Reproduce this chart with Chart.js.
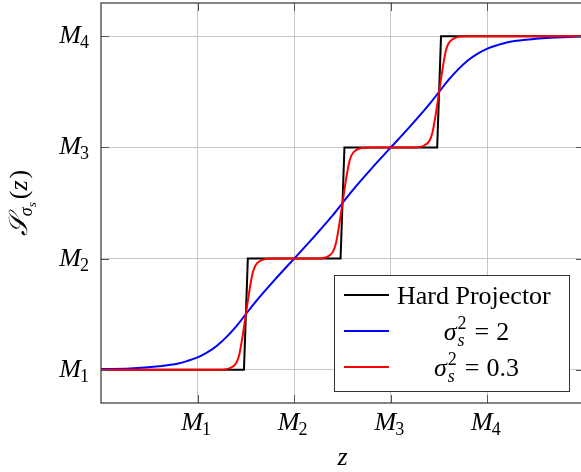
<!DOCTYPE html>
<html><head><meta charset="utf-8">
<script src="https://cdn.jsdelivr.net/npm/chart.js@4.4.1/dist/chart.umd.min.js"></script>
<style>html,body{margin:0;padding:0;overflow:hidden;background:#fff}#wrap{position:absolute;left:0;top:0;width:585px;height:472px}</style>
</head><body><div id="wrap"><canvas id="c" width="585" height="472"></canvas></div>
<script>
// ---- data ----
const xTicks = [1, 2, 3, 4];
const yTicks = [1, 2, 3, 4];
const tickBase = 'M';
const tickSubs = ['1', '2', '3', '4'];
const xTitle = 'z';
const seriesNames = ['Hard Projector', 'σ²ₛ = 2', 'σ²ₛ = 0.3'];
const sigmaValues = ['2', '0.3'];

const hardZ = [0, 1.48, 1.52, 2.48, 2.52, 3.48, 3.52, 5];
const hardV = [1, 1, 2, 2, 3, 3, 4, 4];

const blueZ = [0, 0.3, 0.6, 0.8, 0.9, 1.0, 1.1, 1.2, 1.3, 1.4, 1.5, 1.6, 1.8, 2.0, 2.2, 2.4, 2.5, 2.6, 2.8, 3.0, 3.2, 3.4, 3.5, 3.6, 3.7, 3.8, 3.9, 4.0, 4.1, 4.2, 4.4, 4.7, 5.0];
const blueV = [1.005, 1.01, 1.03, 1.055, 1.08, 1.11, 1.155, 1.215, 1.295, 1.39, 1.50, 1.61, 1.81, 2.00, 2.19, 2.39, 2.50, 2.61, 2.81, 3.00, 3.19, 3.39, 3.50, 3.61, 3.705, 3.785, 3.845, 3.89, 3.92, 3.945, 3.97, 3.99, 4.0];

const redZ = [0, 1.2, 1.3, 1.35, 1.4, 1.43, 1.46, 1.5, 1.54, 1.57, 1.6, 1.65, 1.7, 1.8,
              2.2, 2.3, 2.35, 2.4, 2.43, 2.46, 2.5, 2.54, 2.57, 2.6, 2.65, 2.7, 2.8,
              3.2, 3.3, 3.35, 3.4, 3.43, 3.46, 3.5, 3.54, 3.57, 3.6, 3.65, 3.7, 3.8, 5];
const redV = [1, 1, 1.005, 1.02, 1.06, 1.13, 1.27, 1.5, 1.73, 1.87, 1.94, 1.98, 1.995, 2,
              2, 2.005, 2.02, 2.06, 2.13, 2.27, 2.5, 2.73, 2.87, 2.94, 2.98, 2.995, 3,
              3, 3.005, 3.02, 3.06, 3.13, 3.27, 3.5, 3.73, 3.87, 3.94, 3.98, 3.995, 4, 4];

const toXY = (xs, ys) => xs.map((x, i) => ({x: x, y: ys[i]}));
const serif = '"Liberation Serif","Times New Roman",serif';
const FS = 26, SFS = 18;

function drawM(ctx, sub, x, base, align) {
  ctx.font = 'italic ' + FS + 'px ' + serif;
  const wM = ctx.measureText(tickBase).width;
  ctx.font = SFS + 'px ' + serif;
  const wS = ctx.measureText(sub).width;
  const total = wM + wS;
  let x0 = align === 'right' ? x - total : x - total / 2;
  ctx.textAlign = 'left';
  ctx.textBaseline = 'alphabetic';
  ctx.fillStyle = '#000';
  ctx.font = 'italic ' + FS + 'px ' + serif;
  ctx.fillText(tickBase, x0, base);
  ctx.font = SFS + 'px ' + serif;
  ctx.fillText(sub, x0 + wM - 1, base + 5);
}

function drawSigma(ctx, val, cx, base) {
  ctx.textAlign = 'left'; ctx.textBaseline = 'alphabetic'; ctx.fillStyle = '#000';
  ctx.font = 'italic ' + FS + 'px ' + serif;
  const wSig = ctx.measureText('σ').width;
  ctx.font = SFS + 'px ' + serif;
  const wSup = ctx.measureText('2').width;
  ctx.font = 'italic ' + SFS + 'px ' + serif;
  const wSub = ctx.measureText('s').width;
  const wScript = Math.max(wSup, wSub) + 1;
  ctx.font = FS + 'px ' + serif;
  const wEq = ctx.measureText('=').width;
  const wVal = ctx.measureText(val).width;
  const gap = 7;
  const total = wSig + wScript + gap + wEq + gap + wVal;
  let x = cx - total / 2;
  ctx.font = 'italic ' + FS + 'px ' + serif;
  ctx.fillText('σ', x, base);
  x += wSig + 1;
  ctx.font = SFS + 'px ' + serif;
  ctx.fillText('2', x, base - 11);
  ctx.font = 'italic ' + SFS + 'px ' + serif;
  ctx.fillText('s', x, base + 6);
  x += wScript + gap;
  ctx.font = FS + 'px ' + serif;
  ctx.fillText('=', x, base);
  x += wEq + gap;
  ctx.fillText(val, x, base);
}

const decor = {
  id: 'decor',
  afterDraw(chart) {
    const ctx = chart.ctx, a = chart.chartArea;
    const xs = chart.scales.x, ys = chart.scales.y;
    ctx.save();
    // tick marks (inward, all sides)
    ctx.strokeStyle = '#555'; ctx.lineWidth = 1;
    const TL = 8;
    ctx.beginPath();
    xTicks.forEach(v => {
      const px = Math.round(xs.getPixelForValue(v)) + 0.5;
      ctx.moveTo(px, a.bottom); ctx.lineTo(px, a.bottom - TL);
      ctx.moveTo(px, a.top); ctx.lineTo(px, a.top + TL);
    });
    yTicks.forEach(v => {
      const py = Math.round(ys.getPixelForValue(v)) + 0.5;
      ctx.moveTo(a.left, py); ctx.lineTo(a.left + TL, py);
      ctx.moveTo(a.right, py); ctx.lineTo(a.right - TL, py);
    });
    ctx.stroke();
    // frame
    ctx.strokeStyle = '#333'; ctx.lineWidth = 1.2;
    ctx.strokeRect(a.left, a.top, a.right - a.left, a.bottom - a.top);
    // tick labels
    xTicks.forEach((v, i) => drawM(ctx, tickSubs[i], xs.getPixelForValue(v) - 1, a.bottom + 27, 'center'));
    yTicks.forEach((v, i) => drawM(ctx, tickSubs[i], a.left - 11, ys.getPixelForValue(v) + 7, 'right'));
    // x title
    ctx.font = 'italic ' + FS + 'px ' + serif;
    ctx.textAlign = 'center'; ctx.fillStyle = '#000';
    ctx.fillText(xTitle, (a.left + a.right) / 2, 465);
    // y title (rotated)
    ctx.save();
    ctx.translate(27, (a.top + a.bottom) / 2);
    ctx.rotate(-Math.PI / 2);
    ctx.textAlign = 'left';
    ctx.font = 'italic ' + FS + 'px ' + serif;
    const wS = ctx.measureText('𝒮').width;
    ctx.font = 'italic ' + SFS + 'px ' + serif;
    const wSig = ctx.measureText('σ').width;
    ctx.font = 'italic 13px ' + serif;
    const wss = ctx.measureText('s').width;
    ctx.font = FS + 'px ' + serif;
    const wP = ctx.measureText('(').width;
    ctx.font = 'italic ' + FS + 'px ' + serif;
    const wz = ctx.measureText('z').width;
    const total = wS + wSig + wss + 3 + wP * 2 + wz + 2;
    let x = -total / 2;
    ctx.font = 'italic ' + FS + 'px ' + serif;
    ctx.fillText('𝒮', x, 0); x += wS;
    ctx.font = 'italic ' + SFS + 'px ' + serif;
    ctx.fillText('σ', x, 5); x += wSig;
    ctx.font = 'italic 13px ' + serif;
    ctx.fillText('s', x, 9); x += wss + 3;
    ctx.font = FS + 'px ' + serif;
    ctx.fillText('(', x, 0); x += wP;
    ctx.font = 'italic ' + FS + 'px ' + serif;
    ctx.fillText('z', x, 0); x += wz + 2;
    ctx.font = FS + 'px ' + serif;
    ctx.fillText(')', x, 0);
    ctx.restore();
    // legend
    const L = {x: 334, y: 275, w: 235, h: 116};
    ctx.fillStyle = '#fff';
    ctx.fillRect(L.x, L.y, L.w, L.h);
    ctx.strokeStyle = '#333'; ctx.lineWidth = 1;
    ctx.strokeRect(L.x + 0.5, L.y + 0.5, L.w, L.h);
    const rows = [295, 331, 367];
    chart.data.datasets.forEach((ds, i) => {
      ctx.strokeStyle = ds.borderColor; ctx.lineWidth = 2;
      ctx.beginPath(); ctx.moveTo(344, rows[i]); ctx.lineTo(389, rows[i]); ctx.stroke();
    });
    ctx.fillStyle = '#000';
    ctx.font = FS + 'px ' + serif; ctx.textAlign = 'left';
    ctx.fillText(seriesNames[0], 397, rows[0] + 9);
    drawSigma(ctx, sigmaValues[0], 476, rows[1] + 9);
    drawSigma(ctx, sigmaValues[1], 476, rows[2] + 9);
    ctx.restore();
  }
};

new Chart(document.getElementById('c'), {
  type: 'line',
  data: {
    datasets: [
      {label: seriesNames[0], data: toXY(hardZ, hardV), borderColor: '#000000', borderWidth: 2, pointRadius: 0, tension: 0, order: 3},
      {label: seriesNames[1], data: toXY(blueZ, blueV), borderColor: '#0000ff', borderWidth: 2, pointRadius: 0, cubicInterpolationMode: 'monotone', order: 2},
      {label: seriesNames[2], data: toXY(redZ, redV), borderColor: '#ff0000', borderWidth: 2, pointRadius: 0, cubicInterpolationMode: 'monotone', order: 1}
    ]
  },
  options: {
    responsive: false,
    animation: false,
    devicePixelRatio: 1,
    layout: {padding: {left: 101, top: 3, right: 1, bottom: 69}},
    plugins: {legend: {display: false}, tooltip: {enabled: false}},
    scales: {
      x: {
        type: 'linear', min: 0, max: 5,
        afterBuildTicks: s => { s.ticks = xTicks.map(v => ({value: v})); },
        ticks: {display: false},
        grid: {color: '#c6c6c6', lineWidth: 1, drawTicks: false},
        border: {display: false}
      },
      y: {
        type: 'linear', min: 0.7, max: 4.3,
        afterBuildTicks: s => { s.ticks = yTicks.map(v => ({value: v})); },
        ticks: {display: false},
        grid: {color: '#c6c6c6', lineWidth: 1, drawTicks: false},
        border: {display: false}
      }
    }
  },
  plugins: [decor]
});
</script>
</body></html>
